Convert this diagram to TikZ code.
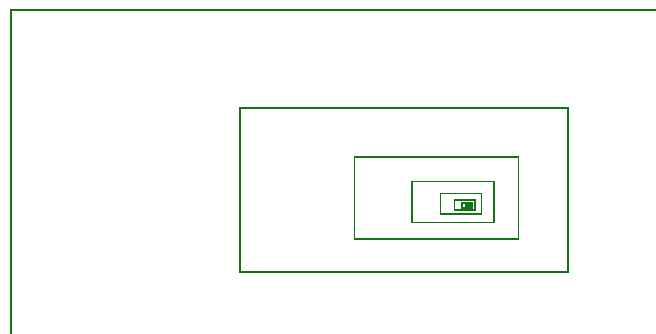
\documentclass[tikz,border=0pt]{standalone}
\definecolor{fgreen}{RGB}{20,115,20}
\begin{document}
\begin{tikzpicture}[x=1pt,y=1pt,rectline/.style={draw=fgreen,line width=1.5pt}]
\useasboundingbox (0,0) rectangle (656,334);
\clip (0,0) rectangle (656,334);
\foreach \k in {0,...,9}{
  \pgfmathsetmacro{\s}{0.5^\k}
  \pgfmathsetmacro{\lx}{469-458*\s}
  \pgfmathsetmacro{\ty}{334-(206-196*\s)}
  \pgfmathsetmacro{\rx}{\lx+656*\s}
  \pgfmathsetmacro{\by}{\ty-328*\s}
  \draw[rectline] (\lx,\ty) rectangle (\rx,\by);
}
\end{tikzpicture}
\end{document}
